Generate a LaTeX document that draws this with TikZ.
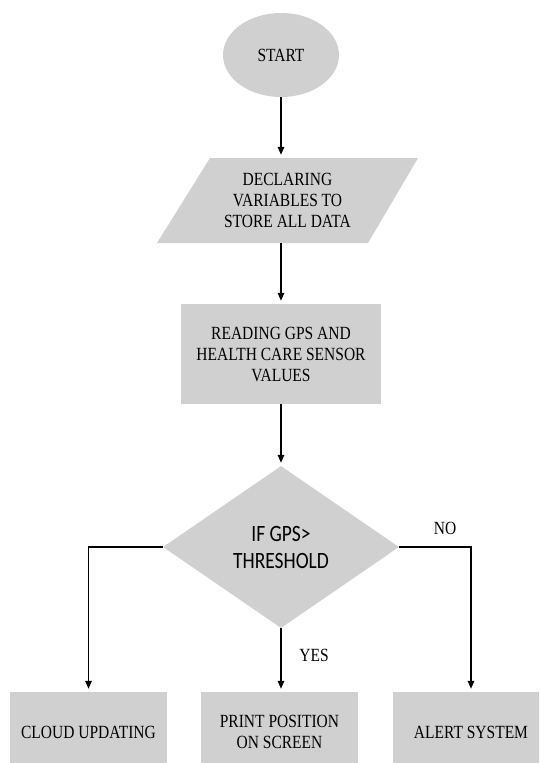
\documentclass[tikz,border=0pt]{standalone}
\usepackage{fontspec}
\setmainfont{Liberation Serif}
\newfontfamily\calib{Carlito}
\usepackage{graphicx}
\usetikzlibrary{shapes.geometric,arrows.meta}
\definecolor{boxgray}{RGB}{208,208,208}
\newcommand{\tallt}[1]{\scalebox{1}[1.2]{#1}}
\begin{document}
\begin{tikzpicture}[x=1pt,y=-1pt,
  every node/.style={font=\fontsize{15.5}{21}\selectfont, align=center, inner sep=0pt},
  fillshape/.style={fill=boxgray, draw=none},
  box/.style={rectangle, fillshape, minimum width=157pt, minimum height=80pt},
  conn/.style={line width=1.4pt, -{Triangle[length=8pt,width=6.5pt]}, shorten >=3pt}]
\useasboundingbox (0,0) rectangle (539,763);
\clip (0,0) rectangle (539,763);
\fill[white] (0,0) rectangle (539,763);

\node[ellipse, fillshape, minimum width=116pt, minimum height=84pt] (start) at (281,55) {\tallt{START}};

\path[fillshape] (210,158) -- (418,158) -- (368,243) -- (157,243) -- cycle;
\node[minimum width=261pt, minimum height=85pt] (decl) at (287.5,200.5)
  {\tallt{DECLARING}\\\tallt{VARIABLES TO}\\\tallt{STORE ALL DATA}};

\node[rectangle, fillshape, minimum width=200pt, minimum height=100pt] (read) at (281,354)
  {\tallt{READING GPS AND}\\\tallt{HEALTH CARE SENSOR}\\\tallt{VALUES}};

\node[diamond, fillshape, minimum width=236pt, minimum height=162pt,
  font=\calib\fontsize{19.5}{27}\selectfont] (dec) at (281,547)
  {\tallt{IF GPS>}\\\tallt{THRESHOLD}};

\node[box] (cloud) at (88.5,732) {\tallt{CLOUD UPDATING}};
\node[box] (print) at (279.5,732) {\tallt{PRINT POSITION}\\\tallt{ON SCREEN}};
\node[box] (alert) at (471,732) {\tallt{ALERT SYSTEM}};

\node (no) at (445,528) {\tallt{NO}};
\node (yes) at (314,655) {\tallt{YES}};

\draw[conn] (start.south) -- (start.south |- decl.north);
\draw[conn] (read.north |- decl.south) -- (read.north);
\draw[conn] (read.south) -- (dec.north);
\draw[conn] (dec.south) -- (dec.south |- print.north);
\draw[conn] (dec.west) -| (cloud.north);
\draw[conn] (dec.east) -| (alert.north);
\end{tikzpicture}
\end{document}
